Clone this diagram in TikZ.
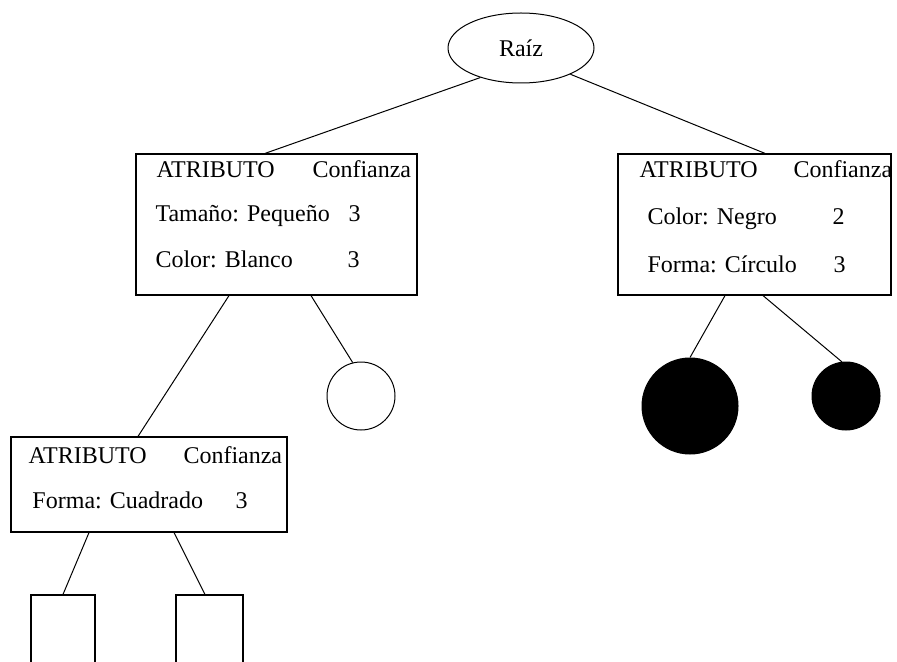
\documentclass[tikz,border=0pt]{standalone}
\usepackage{fontspec}
\setmainfont{Liberation Serif}
\usetikzlibrary{shapes.geometric,calc}
\begin{document}
\begin{tikzpicture}[x=0.5pt,y=-0.5pt,
  line width=0.5pt,
  every node/.style={font=\fontsize{12}{14}\selectfont},
  attrbox/.style={draw,rectangle,inner sep=0pt,line width=0.6pt},
  leafbox/.style={draw,rectangle,inner sep=0pt,line width=0.6pt,minimum height=45pt},
  leafdisc/.style={draw,circle,inner sep=0pt},
  txt/.style={anchor=base west,inner sep=0pt},
  ]
\useasboundingbox (0,0) rectangle (897,662);
\clip (0,0) rectangle (897,662);

% root
\node[draw,ellipse,minimum width=73pt,minimum height=35pt,inner sep=0pt] (root) at (521,48) {Raíz};

% attribute boxes
\node[attrbox,minimum width=140.5pt,minimum height=70.5pt] (A) at (276.5,224.5) {};
\node[attrbox,minimum width=136.5pt,minimum height=70.5pt] (B) at (754.5,224.5) {};
\node[attrbox,minimum width=138pt,minimum height=47.5pt] (C) at (149,484.5) {};

% box A contents
\node[txt] (a1) at (156,178) {ATRIBUTO};
\node[txt] (a2) at (312,178) {Confianza};
\node[txt] (a3) at (155,222) {Tamaño: Pequeño};
\node[txt] (a4) at (348,222) {3};
\node[txt] (a5) at (155,268) {Color: Blanco};
\node[txt] (a6) at (347,268) {3};

% box B contents
\node[txt] (b1) at (639,178) {ATRIBUTO};
\node[txt] (b2) at (793,178) {Confianza};
\node[txt] (b3) at (647,225) {Color: Negro};
\node[txt] (b4) at (832,225) {2};
\node[txt] (b5) at (647,272) {Forma: Círculo};
\node[txt] (b6) at (833,272) {3};

% box C contents
\node[txt] (c1) at (28,463) {ATRIBUTO};
\node[txt] (c2) at (183,463) {Confianza};
\node[txt] (c3) at (32,508) {Forma: Cuadrado};
\node[txt] (c4) at (235,508) {3};

% leaves
\node[leafdisc,minimum size=34pt] (wc) at (361,396) {};
\node[leafdisc,fill=black,minimum size=48pt] (bb) at (690,406) {};
\node[leafdisc,fill=black,minimum size=34pt] (sb) at (846,396) {};
\node[leafbox,minimum width=32pt] (r1) at (63,640) {};
\node[leafbox,minimum width=33.5pt] (r2) at (209.5,640) {};

% branches
\draw (root.216) -- ($(A.north)+(-11.5,0)$);
\draw (root.332) -- ($(B.north)+(10.5,0)$);
\draw ($(A.south)+(-47.5,0)$) -- ($(C.north)+(-11,0)$);
\draw ($(A.south)+(34.5,0)$) -- (wc.104);
\draw ($(B.south)+(-29.5,0)$) -- (bb.north);
\draw ($(B.south)+(8.5,0)$) -- (sb.97);
\draw ($(C.south)+(-60,0)$) -- (r1.north);
\draw ($(C.south)+(25,0)$) -- ($(r2.north)+(-4.5,0)$);
\end{tikzpicture}
\end{document}
